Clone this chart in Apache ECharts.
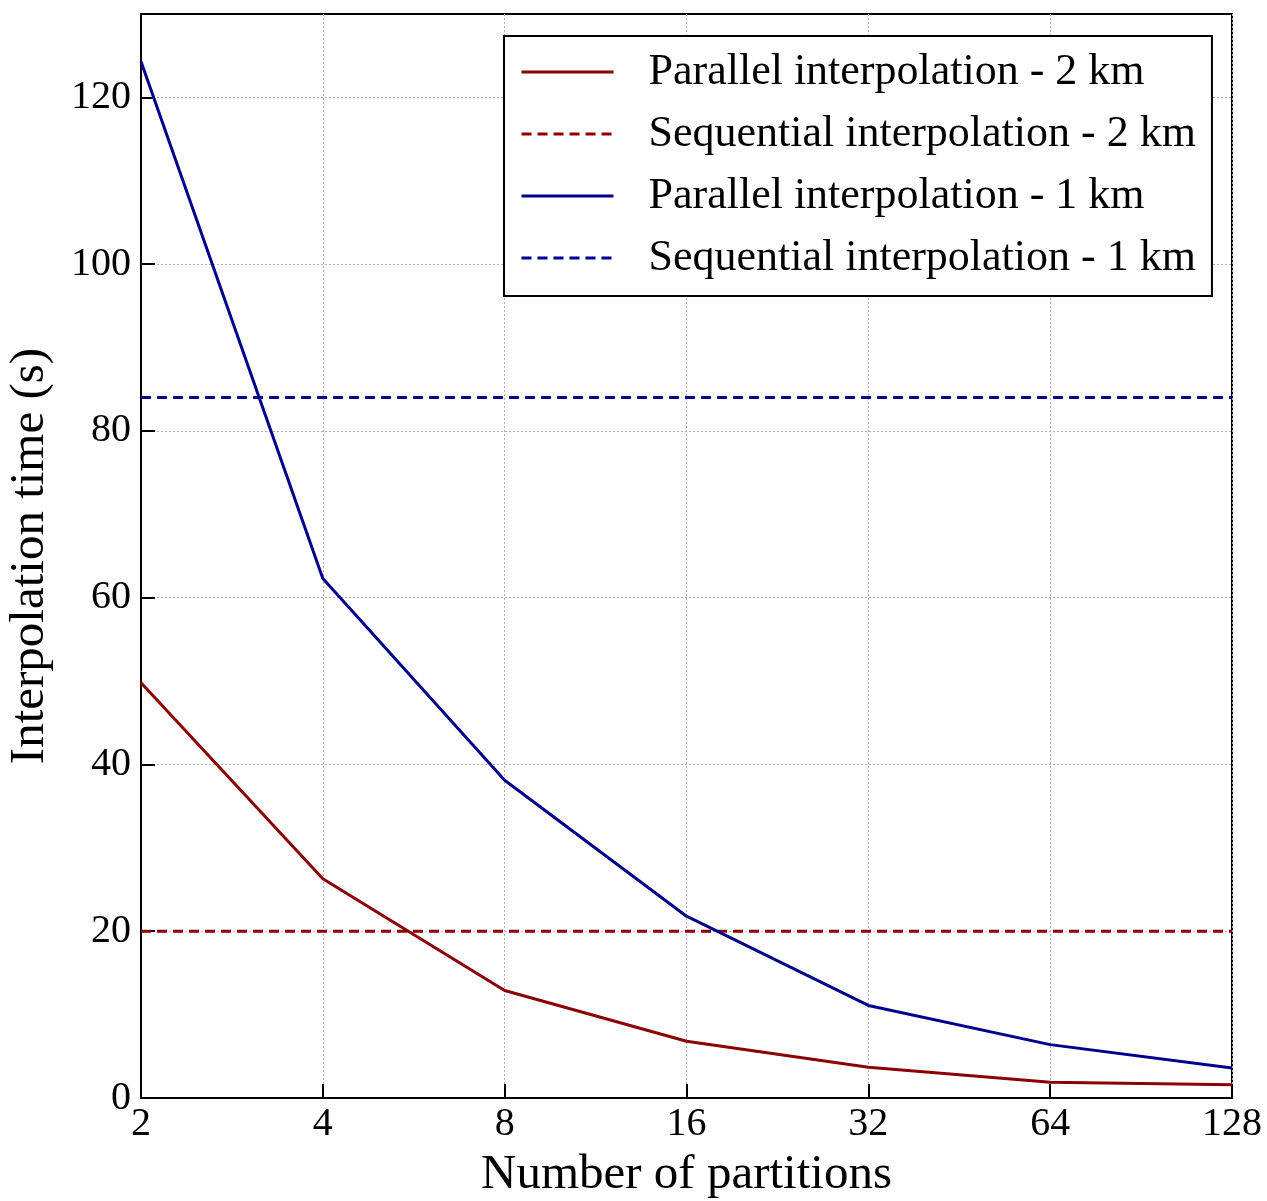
<!DOCTYPE html>
<html>
<head>
<meta charset="utf-8">
<script src="https://cdn.jsdelivr.net/npm/echarts@6/dist/echarts.min.js"></script>
<style>
html,body{margin:0;padding:0;background:#fff;}
#chart{width:1267px;height:1201px;}
</style>
</head>
<body>
<div id="chart"></div>
<script>
const partitions = ['2', '4', '8', '16', '32', '64', '128'];
const parallel2km = [49.8, 26.3, 12.9, 6.8, 3.7, 1.9, 1.6];
const sequential2km = [20, 20, 20, 20, 20, 20, 20];
const parallel1km = [124.3, 62.3, 38.1, 21.8, 11.1, 6.4, 3.6];
const sequential1km = [84, 84, 84, 84, 84, 84, 84];
const yTicks = [0, 20, 40, 60, 80, 100, 120];

const FONT = '"Liberation Serif", "DejaVu Serif", serif';
const RED = '#8b0000';
const BLUE = '#00008b';

const chart = echarts.init(document.getElementById('chart'), null, {renderer: 'canvas'});

function line(name, data, color, dashed) {
  return {
    name: name,
    type: 'line',
    data: data,
    symbol: 'none',
    smooth: false,
    lineStyle: {color: color, width: 3, type: dashed ? [10, 6] : 'solid'},
    itemStyle: {color: color},
    z: 3
  };
}

chart.setOption({
  animation: false,
  backgroundColor: '#fff',
  grid: {
    left: 141, right: 35, top: 14, bottom: 103,
    outerBoundsMode: 'none',
    containLabel: false,
    show: true, borderColor: '#000', borderWidth: 2, backgroundColor: 'transparent'
  },
  legend: {
    left: 504, top: 36,
    orient: 'vertical',
    backgroundColor: '#fff',
    borderColor: '#000', borderWidth: 2, borderRadius: 0,
    padding: [14, 16, 16, 16],
    itemWidth: 92, itemHeight: 4,
    itemGap: 18,
    itemStyle: {opacity: 0},
    lineStyle: {width: 3},
    textStyle: {fontFamily: FONT, fontSize: 44, color: '#000', padding: [0, 0, 0, 30], lineHeight: 44},
    data: [
      'Parallel interpolation - 2 km',
      'Sequential interpolation - 2 km',
      'Parallel interpolation - 1 km',
      'Sequential interpolation - 1 km'
    ]
  },
  xAxis: {
    type: 'category',
    data: partitions,
    boundaryGap: false,
    name: 'Number of partitions',
    nameLocation: 'middle',
    nameGap: 53,
    nameTextStyle: {fontFamily: FONT, fontSize: 49, color: '#000'},
    axisLine: {show: true, lineStyle: {color: '#000', width: 2}},
    axisTick: {show: true, inside: true, length: 14, lineStyle: {color: '#000', width: 2}},
    axisLabel: {fontFamily: FONT, fontSize: 40, color: '#000', margin: 6},
    splitLine: {show: true, lineStyle: {color: '#b0b0b0', width: 1, type: [2, 2]}}
  },
  yAxis: {
    type: 'value',
    min: 0, max: 130, interval: 20,
    name: 'Interpolation time (s)',
    nameLocation: 'middle',
    nameGap: 86,
    nameTextStyle: {fontFamily: FONT, fontSize: 49, color: '#000'},
    axisLine: {show: true, lineStyle: {color: '#000', width: 2}},
    axisTick: {show: true, inside: true, length: 14, lineStyle: {color: '#000', width: 2}, customValues: yTicks},
    axisLabel: {fontFamily: FONT, fontSize: 40, color: '#000', margin: 10, customValues: yTicks},
    splitLine: {show: true, lineStyle: {color: '#b0b0b0', width: 1, type: [2, 2]}}
  },
  series: [
    line('Parallel interpolation - 2 km', parallel2km, RED, false),
    line('Sequential interpolation - 2 km', sequential2km, RED, true),
    line('Parallel interpolation - 1 km', parallel1km, BLUE, false),
    line('Sequential interpolation - 1 km', sequential1km, BLUE, true)
  ]
});
</script>
</body>
</html>
